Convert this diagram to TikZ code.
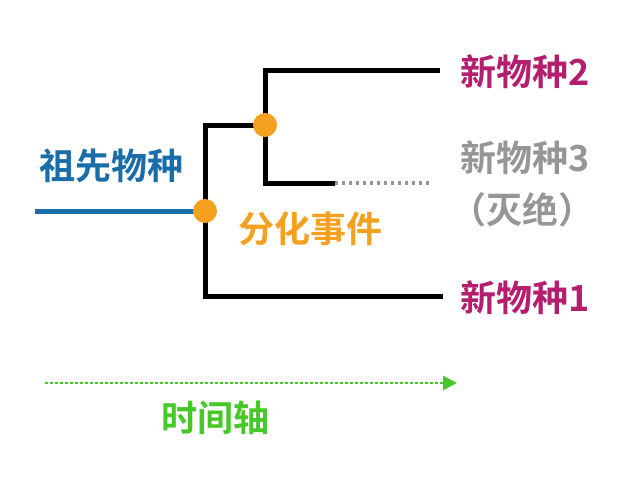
\documentclass[tikz,border=0pt]{standalone}
\usepackage{fontspec}
\newfontfamily\cjk{Noto Sans CJK SC}[BoldFont={Noto Sans CJK SC Bold}]
\usetikzlibrary{arrows.meta}
\definecolor{cblue}{RGB}{25,110,170}
\definecolor{corange}{RGB}{245,160,30}
\definecolor{cmag}{RGB}{180,30,110}
\definecolor{cgray}{RGB}{150,150,150}
\definecolor{cgreen}{RGB}{70,200,40}
\begin{document}
\begin{tikzpicture}[x=1pt,y=-1pt,
  lbl/.style={font=\cjk\bfseries\fontsize{36}{36}\selectfont,inner sep=0},
  br/.style={line width=5pt},
  dot/.style={circle,fill=corange,minimum size=24pt,inner sep=0}]
\useasboundingbox (0,0) rectangle (640,480);
\coordinate (a0) at (35,211);
\coordinate (s1) at (205,211);
\coordinate (s2) at (265,125);
\coordinate (t1) at (205,125);
\coordinate (b1) at (205,296);
\coordinate (e1) at (440,296);
\coordinate (u2) at (265,70);
\coordinate (e2) at (440,70);
\coordinate (u3) at (265,183);
\coordinate (m3) at (335,183);
\coordinate (e3) at (430,183);
\draw[br,cblue] (a0) -- (s1);
\draw[br,line cap=rect] (t1) -- (b1) -- (e1);
\draw[br] (t1) -- (s2);
\draw[br] (e2) -- (u2) -- (u3) -- (m3);
\draw[line width=4pt,cgray,dash pattern=on 3pt off 4pt] (m3) -- (e3);
\node[dot] (d1) at (s1) {};
\node[dot] (d2) at (s2) {};
\node[lbl,text=cblue] (anc) at (111,166) {祖先物种};
\node[lbl,text=corange] (ev) at (310,229) {分化事件};
\node[lbl,text=cmag] (n2) at (525,72) {新物种2};
\node[lbl,text=cgray] (n3) at (525,158) {新物种3};
\node[lbl,text=cgray] (ex) at (522,210) {（灭绝）};
\node[lbl,text=cmag] (n1) at (525,298) {新物种1};
\coordinate (ta) at (45,383);
\coordinate (tb) at (457,383);
\draw[cgreen,line width=2.5pt,dash pattern=on 3pt off 2pt,-{Triangle[length=14pt,width=14pt]}] (ta) -- (tb);
\node[lbl,text=cgreen] (tl) at (215,418) {时间轴};
\end{tikzpicture}
\end{document}
